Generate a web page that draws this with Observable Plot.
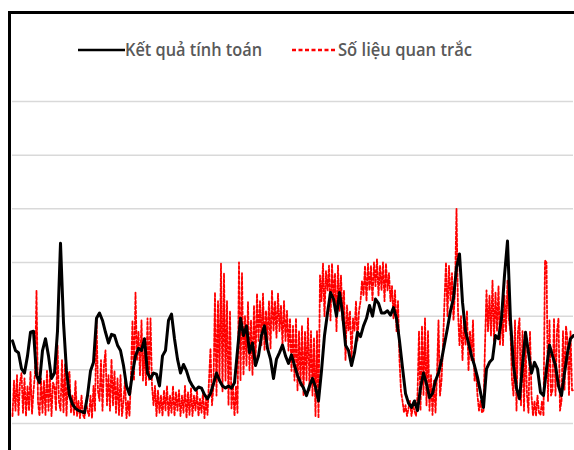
<!DOCTYPE html>
<html><head><meta charset="utf-8">
<script src="https://cdn.jsdelivr.net/npm/d3@7"></script>
<script src="https://cdn.jsdelivr.net/npm/@observablehq/plot@0.6"></script>
<style>
html,body{margin:0;padding:0;background:#fff;}
body{width:574px;height:450px;overflow:hidden;position:relative;}
#frame{position:absolute;left:8px;top:11px;width:600px;height:500px;border-left:3px solid #000;border-top:3px solid #000;pointer-events:none;z-index:2;}
#chart{position:absolute;left:0;top:80px;}
.txt{position:absolute;top:37px;font-family:"Open Sans",Lato,sans-serif;font-weight:600;font-size:18px;line-height:24px;color:#595959;white-space:nowrap;transform-origin:0 50%;}
.sw{position:absolute;}
</style>
</head><body>
<div id="frame"></div>
<svg class="sw" style="left:78px;top:44px" width="48" height="12"><line x1="0" x2="47" y1="6" y2="6" stroke="#000" stroke-width="2.5"/></svg>
<div class="txt" id="t1" style="left:125px"></div>
<svg class="sw" style="left:292px;top:44px" width="48" height="12"><line x1="0" x2="45" y1="6" y2="6" stroke="#ff0000" stroke-width="2.5" stroke-dasharray="4,2.5"/></svg>
<div class="txt" id="t2" style="left:338px"></div>
<div id="chart"></div>
<script>
const seriesNames = ["Kết quả tính toán", "Số liệu quan trắc"];
const gridValues = [0, 50, 100, 150, 200, 250, 300];

// Computed (Kết quả tính toán), one value per day
const computed = [77,68,66,51,47,63,85,86,45,38,68,79,63,42,47,86,168,94,49,26,18,14,12,11,10,26,49,57,98,103,96,85,75,83,82,73,68,54,35,27,47,63,70,68,79,47,42,47,46,35,63,68,96,102,79,60,47,55,49,40,35,31,34,33,27,23,28,37,47,40,35,33,35,33,38,68,98,82,91,66,75,54,63,82,91,70,60,42,60,66,73,63,56,64,54,45,38,33,26,35,42,34,21,49,82,103,122,116,100,122,103,73,68,54,66,85,81,91,98,110,100,116,112,103,103,105,101,108,98,77,52,28,19,15,21,12,33,47,37,24,28,40,47,59,74,89,105,117,145,158,113,86,75,63,54,43,29,15,51,57,60,82,79,98,138,170,96,54,33,23,54,85,66,47,57,51,29,26,51,73,63,54,35,26,47,66,79,82];

// Observed (Số liệu quan trắc), two readings per day
const observed = [7,40,12,45,8,38,47,10,42,7,35,12,48,9,30,47,124,20,7,42,10,40,8,49,12,45,7,38,35,12,73,20,12,59,10,55,7,45,48,10,26,8,40,7,21,5,26,8,5,21,12,7,26,5,35,12,98,30,21,59,12,55,68,17,45,12,60,17,49,10,42,8,45,7,21,40,5,21,7,45,96,40,122,59,86,45,96,40,73,35,98,40,98,35,17,35,7,31,10,26,7,31,12,35,7,26,10,35,7,29,12,31,7,26,10,35,5,29,8,33,7,26,12,31,7,23,10,29,5,23,8,40,70,17,35,122,26,114,40,149,30,140,40,114,17,105,14,35,7,35,10,150,40,140,45,100,54,113,49,96,45,110,55,121,77,114,73,121,68,105,77,114,70,124,86,114,80,121,86,110,73,114,77,105,68,98,49,91,40,98,31,86,35,91,26,86,40,98,31,86,26,80,7,86,5,138,114,149,100,142,124,147,96,149,114,140,86,147,105,138,96,124,59,110,86,105,59,98,86,114,77,105,114,133,119,147,114,149,124,147,114,150,128,153,119,147,124,150,114,149,124,140,114,128,98,124,86,114,59,30,21,10,17,7,14,21,7,17,12,7,26,86,12,91,26,98,17,86,12,45,8,40,10,45,96,26,40,73,114,150,100,147,114,140,96,124,200,105,73,100,59,96,73,105,49,86,59,96,40,49,26,12,21,10,12,73,124,86,119,82,133,77,122,86,128,73,105,73,119,86,133,96,86,40,26,96,12,86,98,17,86,12,77,26,10,86,26,7,21,7,26,10,8,21,7,152,150,21,96,26,31,98,26,86,98,12,21,86,31,91,77,26,86,31,31];

const comp = computed.map((v, i) => ({day: i, value: v, series: seriesNames[0]}));
const obs = observed.map((v, j) => ({day: j / 2, value: v, series: seriesNames[1]}));

const t1 = document.getElementById("t1"), t2 = document.getElementById("t2");
t1.textContent = seriesNames[0];
t2.textContent = seriesNames[1];
function fit(el, w) { const r = el.getBoundingClientRect().width; el.style.transform = `scaleX(${w / r})`; }
fit(t1, 137); fit(t2, 134);

const chart = Plot.plot({
  width: 574,
  height: 370,
  marginLeft: 12,
  marginRight: 1,
  marginTop: 21,
  marginBottom: 27,
  x: {domain: [0, computed.length - 1], axis: null},
  y: {domain: [0, 300], axis: null},
  marks: [
    Plot.ruleY(gridValues, {stroke: "#d9d9d9", strokeWidth: 1.5}),
    Plot.line(obs, {x: "day", y: "value", stroke: "#ff0000", strokeWidth: 1.8, strokeDasharray: "3,2"}),
    Plot.line(comp, {x: "day", y: "value", stroke: "#000", strokeWidth: 3, strokeLinejoin: "round"})
  ]
});
document.getElementById("chart").appendChild(chart);
</script>
</body></html>
